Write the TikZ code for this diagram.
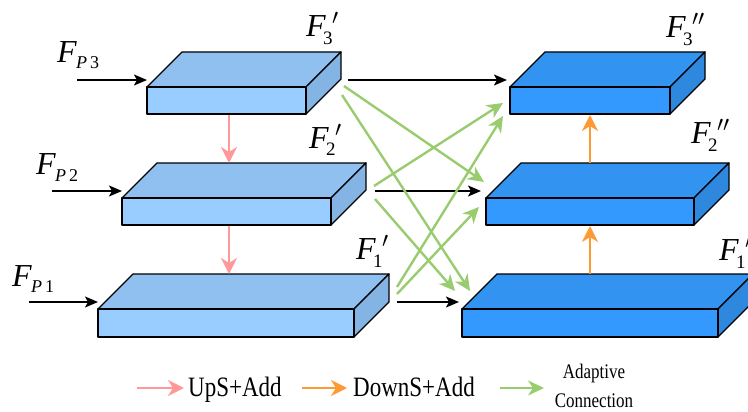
\documentclass[tikz,border=0pt]{standalone}
\usepackage{fix-cm}
\usepackage{fontspec}
\setmainfont{Liberation Serif}
\usetikzlibrary{arrows.meta}
\definecolor{lfront}{HTML}{99CCFF}
\definecolor{ltop}{HTML}{8FC0F0}
\definecolor{lside}{HTML}{84B4E4}
\definecolor{rfront}{HTML}{3399FF}
\definecolor{rtop}{HTML}{3393F0}
\definecolor{rside}{HTML}{2E88DE}
\definecolor{upcol}{HTML}{FF9999}
\definecolor{downcol}{HTML}{FF9933}
\definecolor{adcol}{HTML}{99CC6E}
\newcommand\slab[5]{%
  \draw[edge,fill=#5top] (#1,#2) -- (#1+35,#2-35) -- (#3+35,#2-35) -- (#3,#2) -- cycle;
  \draw[edge,fill=#5side] (#3,#2) -- (#3+35,#2-35) -- (#3+35,#4-35) -- (#3,#4) -- cycle;
  \draw[edge,fill=#5front] (#1,#2) rectangle (#3,#4);}
\newcommand\flab[2]{\fontsize{32}{32}\selectfont\textit{F}\kern-3pt\rlap{\raisebox{-8pt}{\fontsize{19}{19}\selectfont#1}}\kern9pt\raisebox{12pt}{\fontsize{22}{22}\selectfont$#2$}}
\newcommand\plab[1]{\fontsize{32}{32}\selectfont\textit{F}\kern-1pt\raisebox{-6pt}{\fontsize{18}{18}\selectfont\textit{P}\kern3pt#1}}
\tikzset{
  edge/.style={draw=black,line width=1.3pt,line join=round},
  lab/.style={anchor=base west,inner sep=0pt},
  blk/.style={-{Stealth[length=13pt,width=11pt,inset=3pt]},line width=1.4pt},
  ups/.style={-{Stealth[length=16pt,width=16pt,inset=5pt]},line width=2.4pt,draw=upcol},
  downs/.style={-{Stealth[length=16pt,width=16pt,inset=5pt]},line width=2.4pt,draw=downcol},
  adap/.style={-{Stealth[length=16pt,width=15pt,inset=5pt]},line width=2.4pt,draw=adcol},
  legtxt/.style={anchor=base west,inner sep=0pt,font=\fontsize{23}{23}\selectfont},
}
\begin{document}
\begin{tikzpicture}[x=1pt,y=-1pt]
\useasboundingbox (0,0) rectangle (748,412);
\clip (0,0) rectangle (748,412);
% boxes
\slab{147}{87}{306}{114}{l}
\slab{122}{198}{331}{225}{l}
\slab{98}{309}{354}{337}{l}
\slab{510}{87}{670}{114}{r}
\slab{486}{198}{694}{225}{r}
\slab{462}{309}{718}{337}{r}
% coordinates
\coordinate (p3s) at (77,80);   \coordinate (p3e) at (147,80);
\coordinate (p2s) at (52,191);  \coordinate (p2e) at (122,191);
\coordinate (p1s) at (29,302);  \coordinate (p1e) at (98,302);
\coordinate (l3o) at (348,80);  \coordinate (r3i) at (507,80);
\coordinate (l2o) at (375,191); \coordinate (r2i) at (481,191);
\coordinate (l1o) at (397,302); \coordinate (r1i) at (459,302);
\coordinate (l3b) at (229,115); \coordinate (l2t) at (229,163);
\coordinate (l2b) at (229,226); \coordinate (l1t) at (229,274);
\coordinate (r1t) at (590,274); \coordinate (r2b) at (590,226);
\coordinate (r2t) at (590,163); \coordinate (r3b) at (590,115);
\coordinate (g1s) at (344,86);  \coordinate (g1e) at (484,182);
\coordinate (g2s) at (342,95);  \coordinate (g2e) at (470,291);
\coordinate (g3s) at (374,186); \coordinate (g3e) at (503,103);
\coordinate (g4s) at (375,199); \coordinate (g4e) at (455,291);
\coordinate (g5s) at (397,287); \coordinate (g5e) at (503,116);
\coordinate (g6s) at (397,294); \coordinate (g6e) at (479,207);
% inputs and straight connections
\draw[blk] (p3s) -- (p3e);
\draw[blk] (p2s) -- (p2e);
\draw[blk] (p1s) -- (p1e);
\draw[blk] (l3o) -- (r3i);
\draw[blk] (l2o) -- (r2i);
\draw[blk] (l1o) -- (r1i);
% up / down
\draw[ups] (l3b) -- (l2t);
\draw[ups] (l2b) -- (l1t);
\draw[downs] (r1t) -- (r2b);
\draw[downs] (r2t) -- (r3b);
% adaptive
\draw[adap] (g1s) -- (g1e);
\draw[adap] (g2s) -- (g2e);
\draw[adap] (g3s) -- (g3e);
\draw[adap] (g4s) -- (g4e);
\draw[adap] (g5s) -- (g5e);
\draw[adap] (g6s) -- (g6e);
% labels
\node[lab] (fp3) at (57,63) {\plab{3}};
\node[lab] (fp2) at (36,175) {\plab{2}};
\node[lab] (fp1) at (12,286) {\plab{1}};
\node[lab] (f3a) at (306,37) {\flab{3}{\prime}};
\node[lab] (f2a) at (309,148) {\flab{2}{\prime}};
\node[lab] (f1a) at (356,259) {\flab{1}{\prime}};
\node[lab] (f3b) at (666,38) {\flab{3}{\prime\prime}};
\node[lab] (f2b) at (691,143) {\flab{2}{\prime\prime}};
\node[lab] (f1b) at (719,260) {\flab{1}{\prime\prime}};
% legend
\coordinate (a1s) at (137,388); \coordinate (a1e) at (184,388);
\coordinate (a2s) at (302,388); \coordinate (a2e) at (347,388);
\coordinate (a3s) at (500,388); \coordinate (a3e) at (544,388);
\draw[ups] (a1s) -- (a1e);
\draw[downs] (a2s) -- (a2e);
\draw[adap] (a3s) -- (a3e);
\node[legtxt] (t1) at (188,396) {\scalebox{1}[1.22]{UpS+Add}};
\node[legtxt] (t2) at (353,396) {\scalebox{1}[1.22]{DownS+Add}};
\node[inner sep=0pt,align=center,font=\fontsize{17}{29}\selectfont] (t3) at (594,386) {\scalebox{1}[1.22]{Adaptive}\\\scalebox{1}[1.22]{Connection}};
\end{tikzpicture}
\end{document}
